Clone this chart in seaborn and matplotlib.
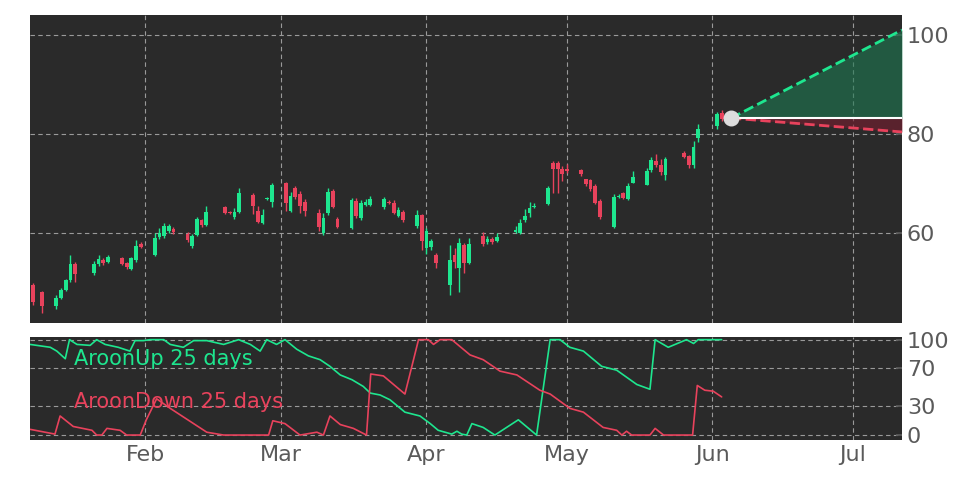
import numpy as np
import pandas as pd
import matplotlib
matplotlib.use("Agg")
import matplotlib.pyplot as plt
import matplotlib.dates as mdates
import seaborn as sns

sns.set_theme(style="dark")
plt.rcParams['font.family'] = ['DejaVu Sans']

base = pd.Timestamp("2024-01-01")
day_offsets = [7,9,12,13,14,15,16,20,21,22,23,26,27,28,29,30,33,34,35,36,37,40,41,42,43,44,48,49,50,51,
               54,55,56,57,58,61,62,63,64,65,68,69,70,71,72,75,76,77,78,79,82,83,84,85,86,89,90,91,92,93,
               96,97,98,99,100,103,104,105,106,110,111,112,113,114,117,118,119,120,121,124,125,126,127,128,
               131,132,133,134,135,138,139,140,141,142,146,147,148,149,153,154]
opens = [49.5,48.0,45.3,46.8,48.6,50.5,53.7,52.0,53.7,54.6,54.1,54.9,53.9,52.7,54.5,57.8,55.6,59.1,59.4,60.4,
         60.9,59.9,57.4,59.6,62.6,61.6,65.2,64.1,63.3,64.3,67.7,64.4,62.1,66.9,66.3,70.0,64.5,69.0,67.9,66.3,
         64.1,60.0,64.0,68.4,62.8,61.1,66.5,63.0,65.7,65.7,65.3,66.3,66.1,63.5,64.2,61.4,63.6,57.0,57.2,55.6,
         49.5,55.6,52.9,57.6,54.0,59.4,58.1,58.7,58.3,60.2,60.1,62.6,64.1,65.2,65.8,74.2,74.2,72.9,72.8,72.7,
         70.9,70.7,69.5,66.5,61.3,67.3,68.0,66.8,70.2,69.7,72.7,74.6,73.7,71.7,76.1,75.6,73.7,79.1,81.6,84.2]
closes = [46.1,45.3,46.8,48.6,50.5,53.7,51.8,53.7,54.7,53.9,55.2,53.7,53.1,54.9,57.4,57.2,58.9,60.1,61.4,61.4,
          60.2,58.6,59.4,62.8,61.6,64.2,64.0,64.0,64.2,68.0,65.5,62.3,63.6,67.0,69.7,66.0,67.5,67.3,65.5,64.5,
          61.3,63.0,68.2,65.3,61.3,66.7,63.4,66.1,66.3,66.8,66.8,66.0,64.1,64.6,62.6,63.6,58.3,60.4,58.3,53.9,
          54.5,54.2,58.0,54.0,57.8,57.8,58.7,58.2,59.1,60.6,62.1,63.4,65.0,65.5,69.0,72.9,72.9,71.9,72.6,71.9,
          69.9,68.8,66.1,63.2,67.3,67.5,67.0,69.5,71.4,72.6,74.7,73.7,72.4,75.0,75.4,73.7,77.4,80.9,84.0,83.0]
highs = [50.0,48.3,47.5,49.0,50.8,55.6,54.2,54.3,55.5,55.0,55.6,55.2,54.2,55.2,58.5,58.2,60.0,61.0,62.0,61.8,
         61.2,60.2,59.8,63.3,62.9,65.5,65.5,64.4,65.0,69.0,68.0,65.5,64.8,67.3,70.0,70.4,68.2,69.5,68.5,66.8,
         64.8,64.0,69.0,68.8,63.2,67.0,67.0,66.6,66.8,67.5,67.2,66.6,66.6,65.2,64.6,64.6,63.8,61.0,58.8,55.9,
         57.5,57.0,59.0,58.0,59.0,60.2,59.5,59.2,60.0,61.5,62.8,64.8,66.2,66.0,69.5,74.6,74.6,73.5,74.0,73.0,
         70.6,70.9,69.8,66.8,67.8,67.8,68.2,70.1,72.6,73.2,75.3,76.0,74.9,75.4,76.5,75.8,78.5,82.0,84.4,84.8]
lows = [45.5,43.8,44.6,46.6,48.3,50.2,50.2,51.5,53.3,53.6,54.0,53.5,52.8,52.5,54.1,57.0,55.3,58.7,59.0,60.0,
        59.8,58.2,57.0,59.3,61.2,61.4,63.8,63.8,62.8,64.1,63.9,62.0,61.8,66.7,65.3,64.5,64.3,66.8,64.0,63.5,
        60.5,59.6,63.7,65.0,61.0,60.8,63.0,62.7,65.5,65.5,64.8,65.8,63.8,63.3,62.2,61.0,56.5,55.8,56.5,53.0,
        47.5,53.0,48.0,52.0,53.7,57.4,57.8,57.8,58.1,60.0,59.8,62.3,63.3,65.0,65.6,68.0,68.0,70.5,72.2,71.5,
        69.5,68.5,65.8,62.8,61.0,67.1,66.8,66.6,70.0,69.6,72.4,73.4,71.8,70.8,75.1,73.2,73.2,78.3,81.0,82.7]

up_days = [6.4,10.7,12.1,13.9,14.8,16.4,19.2,20.6,22.4,25.2,27.7,28.8,30.6,32,34.9,36.3,39.1,41.3,44.1,47.7,
           50.9,53.4,55.5,56.9,59,60.8,63.3,65.8,68.3,70.4,72.6,75.1,77.5,79,81.1,83.2,86.4,89.6,91.8,93.5,
           96.4,97.5,98.5,99.6,100.7,103.1,105.6,110.6,114.5,117.4,119.5,121.6,124.5,128.4,131.6,135.9,138.7,
           139.8,142.6,146.5,148,149,154]
aroon_up = [95,92,88,80,100,95,94,100,95,92,88,99,99,100,100,95,92,99,99,95,100,95,88,100,95,100,90,83,79,72,
            63,58,51,44,42,37,24,20,12,5,1,4,1,0,12,8,0,16,0,100,100,92,88,72,68,53,48,100,92,100,96,100,100]
down_days = [6.4,11.7,12.8,15.6,19.6,20.6,21.7,22.8,25.6,27,29.9,31.2,33.4,36.3,44.1,47.7,57.3,58.2,60.8,64,
             67.6,69,70.4,72.6,75.4,78.2,79.1,81.8,86.4,89.3,91.4,92.5,93.9,96.4,100.3,103.1,106.7,110.3,115.2,
             117.4,121.6,124.5,128.7,131.6,132.7,133.7,134.8,138.7,139.8,141.6,147.8,148.8,150.4,152.2,154]
aroon_down = [6,1,20,9,5,0,0,7,5,0,0,16,38,28,3,0,0,15,12,0,3,0,20,11,7,0,64,62,43,100,100,95,100,100,84,79,
              67,63,47,43,28,24,8,5,0,4,0,0,7,0,0,52,47,46,40]

pred_start_day = 156
pred_value = 83.2
pred_up = 101.0
pred_down = 80.4

GREEN = "#1ee68f"
RED = "#e8425c"
BG = "#2a2a2a"
TXT = "#5a5a5a"

dates = [base + pd.Timedelta(days=d) for d in day_offsets]
df = pd.DataFrame({"date": dates, "open": opens, "close": closes, "high": highs, "low": lows})
df["x"] = mdates.date2num(df["date"])
up_df = pd.DataFrame({"x": mdates.date2num([base + pd.Timedelta(days=d) for d in up_days]), "v": aroon_up})
dn_df = pd.DataFrame({"x": mdates.date2num([base + pd.Timedelta(days=d) for d in down_days]), "v": aroon_down})

fig = plt.figure(figsize=(9.72, 4.86), dpi=100, facecolor="white")
ax = fig.add_axes([0.031, 0.335, 0.897, 0.634])
ax2 = fig.add_axes([0.031, 0.095, 0.897, 0.212], sharex=ax)

x0 = mdates.date2num(base + pd.Timedelta(days=6.4))
x1 = mdates.date2num(base + pd.Timedelta(days=192.5))

for a in (ax, ax2):
    a.set_facecolor(BG)
    a.grid(True, color="#9a9a9a", linestyle=(0, (4, 3)), linewidth=0.8)
    a.yaxis.tick_right()
    a.tick_params(axis="both", colors=TXT, labelsize=16, direction="in", length=4)
    for s in a.spines.values():
        s.set_visible(False)

# candlesticks
colors = [GREEN if c >= o else RED for o, c in zip(df["open"], df["close"])]
ax.vlines(df["x"], df["low"], df["high"], colors=colors, linewidth=1)
ax.bar(df["x"], (df["close"] - df["open"]).abs().clip(lower=0.25),
       bottom=df[["open", "close"]].min(axis=1), width=0.8, color=colors, linewidth=0)

# prediction cone
px0 = mdates.date2num(base + pd.Timedelta(days=pred_start_day))
ax.fill_between([px0, x1], [pred_value, pred_value], [pred_value, pred_up], color="#1e7a52", alpha=0.6, linewidth=0)
ax.fill_between([px0, x1], [pred_value, pred_value], [pred_value, pred_down], color="#7a1e30", alpha=0.6, linewidth=0)
ax.plot([px0, x1], [pred_value, pred_up], color=GREEN, linestyle="--", linewidth=2)
ax.plot([px0, x1], [pred_value, pred_down], color=RED, linestyle="--", linewidth=2)
ax.plot([px0, x1], [pred_value, pred_value], color="white", linewidth=1.5)
ax.scatter([px0], [pred_value], s=110, color="#dddddd", zorder=5)

ax.set_ylim(41.8, 104)
ax.set_yticks([60, 80, 100])
ax.set_xlim(x0, x1)
ax.tick_params(axis="x", labelbottom=False)

# aroon
sns.lineplot(data=up_df, x="x", y="v", ax=ax2, color=GREEN, linewidth=1.2)
sns.lineplot(data=dn_df, x="x", y="v", ax=ax2, color=RED, linewidth=1.2)
ax2.set_ylim(-5, 103)
ax2.set_yticks([0, 30, 70, 100])
ax2.set_xlabel("")
ax2.set_ylabel("")
ax2.text(0.05, 0.78, "AroonUp 25 days", transform=ax2.transAxes, color=GREEN, fontsize=15, va="center")
ax2.text(0.05, 0.37, "AroonDown 25 days", transform=ax2.transAxes, color=RED, fontsize=15, va="center")

ax2.xaxis.set_major_locator(mdates.MonthLocator())
ax2.xaxis.set_major_formatter(mdates.DateFormatter("%b"))
ax2.xaxis.set_minor_locator(mdates.WeekdayLocator(byweekday=0))
ax.tick_params(axis="x", which="minor", direction="in", length=2, colors=TXT)
ax2.tick_params(axis="x", which="minor", direction="in", length=2, colors=TXT)
ax2.set_xlim(x0, x1)

fig.savefig("out.png", dpi=100, facecolor="white")
